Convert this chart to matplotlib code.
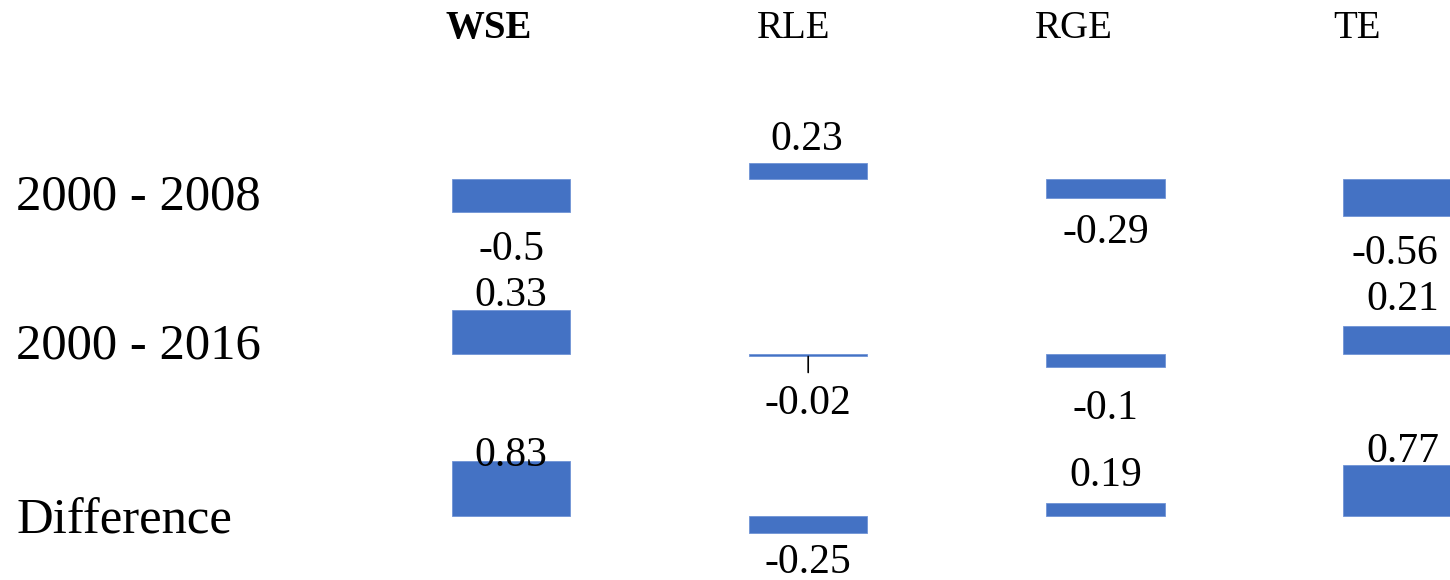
import matplotlib
matplotlib.use('Agg')
import matplotlib.pyplot as plt

# ---- data ----
categories = ['WSE', 'RLE', 'RGE', 'TE']
row_labels = ['2000 - 2008', '2000 - 2016', 'Difference']
v_2000_2008 = [-0.5, 0.23, -0.29, -0.56]
v_2000_2016 = [0.33, -0.02, -0.1, 0.21]
v_difference = [0.83, -0.25, 0.19, 0.77]
series = [v_2000_2008, v_2000_2016, v_difference]

# ---- layout / style (pixels) ----
W, H = 1450, 580
FONT = 'Liberation Serif'
BLUE = '#4472C4'
row_baseline_px = [178.8, 353.8, 516.1]
row_scale = [66.6, 134.0, 66.8]          # pixels per unit, per row
row_span = [(60, 270), (270, 440), (440, 580)]
x0_px, step_px, bar_w = 511.0, 297.2, 0.399
header_x_px = [489, 794, 1074, 1357]
header_base_px = 38.3
rowlabel_base_px = [210, 358.3, 534]
# label offsets (dx, dy downward) from bar end, pixels
label_offsets = [
    [(0, 48), (-1, -13.3), (0, 44.4), (-8, 47.7)],
    [(0, -3.6), (0, 57.3), (0, 52), (0, -15.3)],
    [(0, 5.7), (0, 40.5), (0, -17), (0, -3)],
]

fig = plt.figure(figsize=(W / 100, H / 100), dpi=100)
fig.patch.set_facecolor('white')

for r in range(3):
    T, B = row_span[r]
    ax = fig.add_axes([0, 1 - B / H, 1, (B - T) / H])
    ax.set_xlim((0 - x0_px) / step_px, (W - x0_px) / step_px)
    ax.set_ylim((row_baseline_px[r] - B) / row_scale[r],
                (row_baseline_px[r] - T) / row_scale[r])
    ax.axis('off')
    vals = series[r]
    ax.bar(range(len(categories)), vals, width=bar_w, color=BLUE,
           edgecolor='#6f93d6', linewidth=0.6)
    for i, v in enumerate(vals):
        dx, dy = label_offsets[r][i]
        ax.annotate(f'{v:g}', xy=(i, v), xytext=(dx, -dy),
                    textcoords='offset pixels', ha='center', va='baseline',
                    fontsize=30, family=FONT, annotation_clip=False)
    if r == 1:
        ax.annotate('', xy=(1, vals[1]), xytext=(0, -16),
                    textcoords='offset pixels', annotation_clip=False,
                    arrowprops=dict(arrowstyle='-', color='black', lw=1.2,
                                    shrinkA=0, shrinkB=0))

for j, c in enumerate(categories):
    fig.text(header_x_px[j] / W, 1 - header_base_px / H, c, ha='center',
             va='baseline', fontsize=28, family=FONT,
             fontweight='bold' if j == 0 else 'normal')

for r, lab in enumerate(row_labels):
    fig.text(16 / W, 1 - rowlabel_base_px[r] / H, lab, ha='left',
             va='baseline', fontsize=36.5, family=FONT)

fig.savefig('out.png', dpi=100)
